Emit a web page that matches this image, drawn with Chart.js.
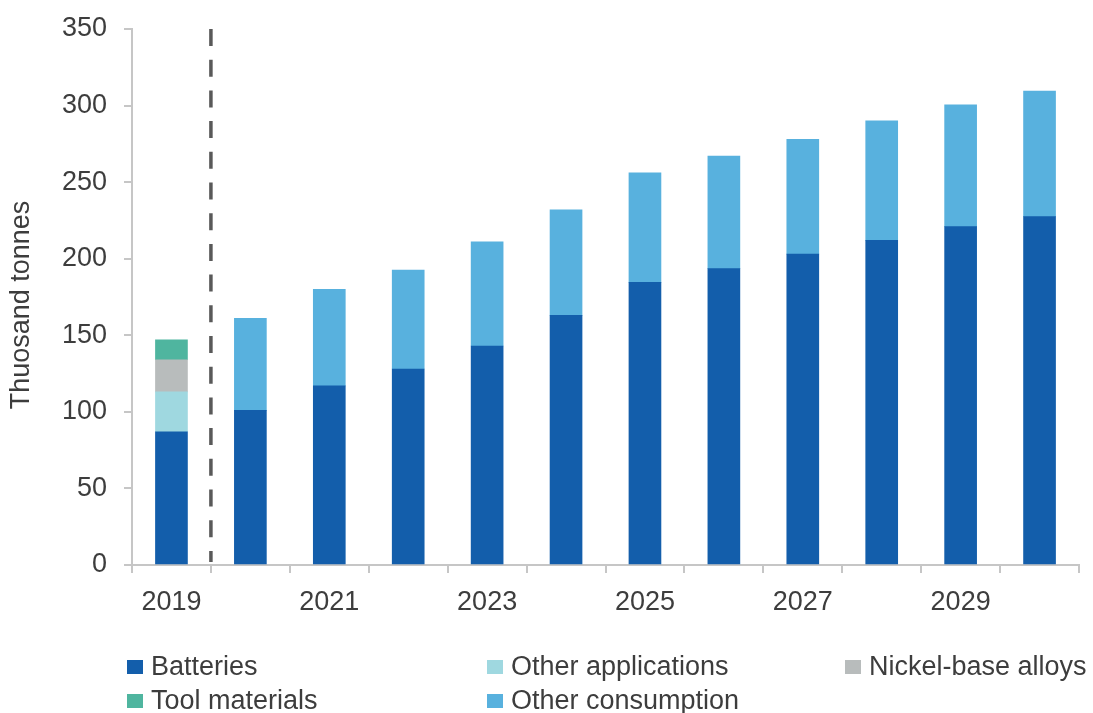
<!DOCTYPE html>
<html>
<head>
<meta charset="utf-8">
<script src="https://cdn.jsdelivr.net/npm/chart.js@4.4.1/dist/chart.umd.min.js"></script>
<style>
  html, body { margin: 0; padding: 0; background: #ffffff; }
  #wrap { position: relative; width: 1093px; height: 713px; overflow: hidden; }
  #chart { position: absolute; left: 0; top: 0; }
  .legend-item {
    position: absolute;
    font-family: "Liberation Sans", Arial, sans-serif;
    font-size: 27px;
    color: #3d3d3d;
    white-space: nowrap;
    line-height: 32px;
  }
  .legend-item .swatch {
    position: absolute;
    width: 16px; height: 14px;
    top: 10px;
  }
  .legend-item .label { position: absolute; left: 24px; top: 0; }
</style>
</head>
<body>
<div id="wrap">
  <canvas id="chart" width="1093" height="713"></canvas>
</div>
<script>
// Nickel demand by end use, thousand tonnes
const years = ['2019', '2020', '2021', '2022', '2023', '2024', '2025', '2026', '2027', '2028', '2029', '2030'];
const batteries         = [87, 101, 117, 128, 143, 163, 184.5, 193.5, 203, 212, 221, 227.5];
const otherApplications = [26, null, null, null, null, null, null, null, null, null, null, null];
const nickelAlloys      = [21, null, null, null, null, null, null, null, null, null, null, null];
const toolMaterials     = [13, null, null, null, null, null, null, null, null, null, null, null];
const otherConsumption  = [null, 60, 63, 64.5, 68, 69, 71.5, 73.5, 75, 78, 79.5, 82];
const yTicks = [0, 50, 100, 150, 200, 250, 300, 350];
const yTitle = 'Thuosand tonnes';

const seriesNames  = ['Batteries', 'Other applications', 'Nickel-base alloys', 'Tool materials', 'Other consumption'];
const seriesColors = ['#135eab', '#9fd8e0', '#b8bcbc', '#4fb59f', '#58b1de'];
const seriesData   = [batteries, otherApplications, nickelAlloys, toolMaterials, otherConsumption];

const FONT = '"Liberation Sans", Arial, sans-serif';
const TEXT = '#3d3d3d';
const AXIS = '#c6c6c6';

// Dashed separator between the actual year and the forecast years
const forecastDivider = {
  id: 'forecastDivider',
  afterDatasetsDraw(chart) {
    const x = chart.scales.x;
    const area = chart.chartArea;
    const px = (x.getPixelForValue(0) + x.getPixelForValue(1)) / 2;
    const ctx = chart.ctx;
    ctx.save();
    ctx.strokeStyle = '#595959';
    ctx.lineWidth = 3.5;
    ctx.setLineDash([17, 13.7]);
    ctx.beginPath();
    ctx.moveTo(px, area.top);
    ctx.lineTo(px, area.bottom - 3);
    ctx.stroke();
    ctx.restore();
  }
};

// Rotated value-axis title, placed a little below the plot's middle
const axisTitle = {
  id: 'axisTitle',
  afterDraw(chart) {
    const area = chart.chartArea;
    const ctx = chart.ctx;
    ctx.save();
    ctx.translate(22, (area.top + area.bottom) / 2 + 8);
    ctx.rotate(-Math.PI / 2);
    ctx.font = '27px ' + FONT;
    ctx.fillStyle = TEXT;
    ctx.textAlign = 'center';
    ctx.textBaseline = 'middle';
    ctx.fillText(yTitle, 0, 0);
    ctx.restore();
  }
};

const chart = new Chart(document.getElementById('chart'), {
  type: 'bar',
  data: {
    labels: years,
    datasets: seriesData.map((d, i) => ({
      label: seriesNames[i],
      data: d,
      backgroundColor: seriesColors[i],
      borderWidth: 0,
      barThickness: 32
    }))
  },
  options: {
    responsive: false,
    animation: false,
    layout: { padding: { left: 0, top: 29, right: 14, bottom: 98 } },
    plugins: {
      legend: { display: false },
      tooltip: { enabled: false }
    },
    scales: {
      x: {
        stacked: true,
        afterFit(s) { s.height = 50; },
        grid: {
          display: true, drawOnChartArea: false, drawTicks: true,
          tickLength: 8, color: AXIS, lineWidth: 2, offset: true
        },
        border: { display: true, color: AXIS, width: 2 },
        ticks: {
          autoSkip: false, maxRotation: 0, padding: 13,
          color: TEXT, font: { family: FONT, size: 27 },
          callback(v, i) { return i % 2 === 0 ? years[i] : ''; }
        }
      },
      y: {
        stacked: true,
        min: yTicks[0], max: yTicks[yTicks.length - 1],
        afterFit(s) { s.width = 132; s.paddingTop = 0; s.paddingBottom = 0; },
        afterBuildTicks(s) { s.ticks = yTicks.map(v => ({ value: v })); },
        grid: {
          display: true, drawOnChartArea: false, drawTicks: true,
          tickLength: 8, color: AXIS, lineWidth: 2
        },
        border: { display: true, color: AXIS, width: 2 },
        ticks: {
          padding: 17, color: TEXT, font: { family: FONT, size: 27 }
        },
        title: { display: false }
      }
    }
  },
  plugins: [forecastDivider, axisTitle]
});

// Legend laid out in two rows, three columns
const legendSlots = [
  { left: 127, top: 650 }, { left: 487, top: 650 }, { left: 845, top: 650 },
  { left: 127, top: 684 }, { left: 487, top: 684 }
];
const wrap = document.getElementById('wrap');
chart.data.datasets.forEach((ds, i) => {
  const item = document.createElement('div');
  item.className = 'legend-item';
  item.style.left = legendSlots[i].left + 'px';
  item.style.top = legendSlots[i].top + 'px';
  const sw = document.createElement('span');
  sw.className = 'swatch';
  sw.style.background = ds.backgroundColor;
  const lb = document.createElement('span');
  lb.className = 'label';
  lb.textContent = ds.label;
  item.appendChild(sw);
  item.appendChild(lb);
  wrap.appendChild(item);
});
</script>
</body>
</html>
